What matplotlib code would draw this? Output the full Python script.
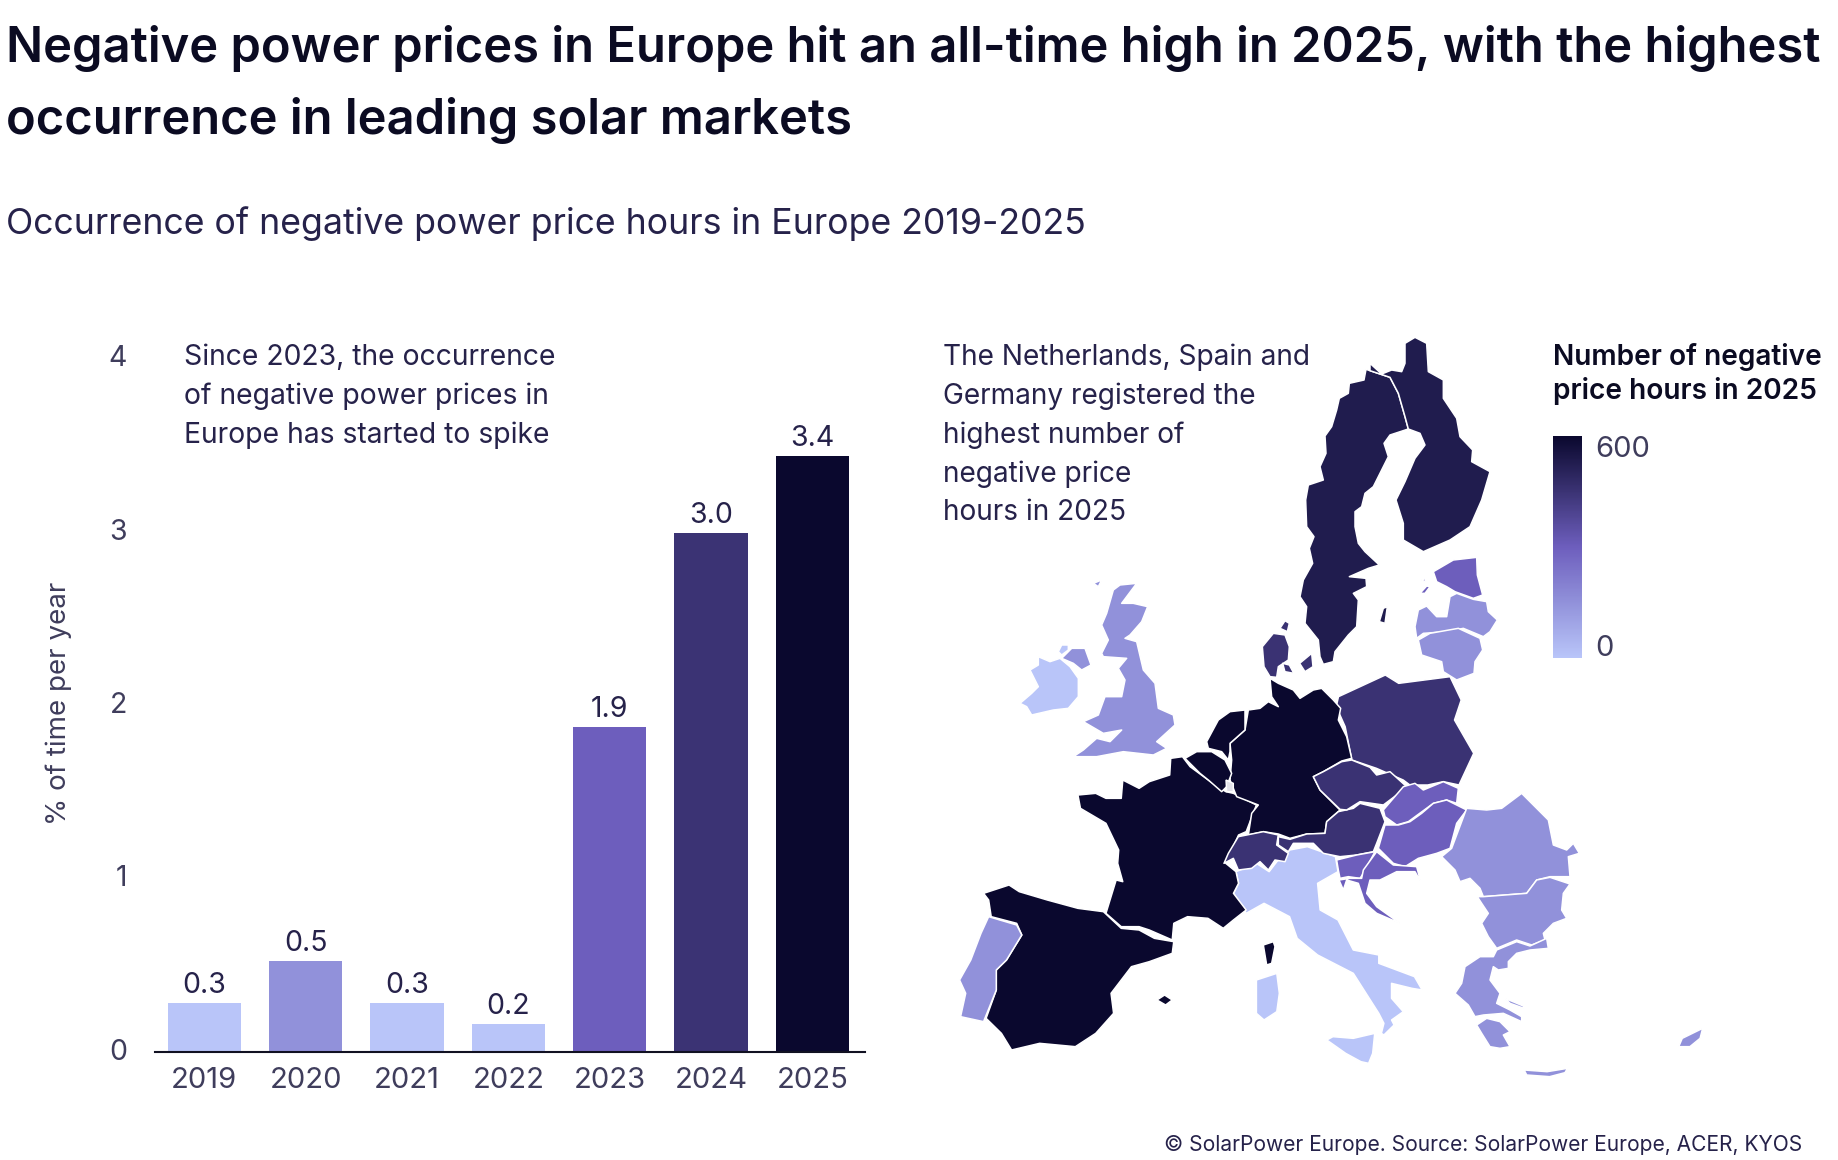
import numpy as np
import matplotlib
matplotlib.use('Agg')
import matplotlib.pyplot as plt
from matplotlib.cm import ScalarMappable
from matplotlib.colors import LinearSegmentedColormap, Normalize
from matplotlib.patches import Polygon
from matplotlib.transforms import ScaledTranslation

W, H = 1838, 1160
plt.rcParams['font.family'] = ['Inter', 'DejaVu Sans']

# Bar chart data
years = ['2019', '2020', '2021', '2022', '2023', '2024', '2025']
share = [0.28, 0.52, 0.28, 0.16, 1.87, 2.99, 3.43]
share_labels = ['0.3', '0.5', '0.3', '0.2', '1.9', '3.0', '3.4']
bar_colors = ['#B9C5F9', '#9191DA', '#B9C5F9', '#B9C5F9', '#6D5EBD', '#3B3374', '#0A082E']

# Hours per country, estimated from the shade of each country
hours = {
    'Sweden': 530, 'Finland': 530, 'Estonia': 300, 'Latvia': 150, 'Lithuania': 150,
    'Denmark': 450, 'Germany': 600, 'Netherlands': 600, 'Belgium': 600, 'France': 600,
    'Spain': 600, 'Portugal': 150, 'Italy': 0, 'Switzerland': 450, 'Austria': 450,
    'Czechia': 450, 'Poland': 450, 'Slovakia': 300, 'Hungary': 300, 'Slovenia': 300,
    'Croatia': 300, 'Romania': 150, 'Bulgaria': 150, 'Greece': 150, 'Ireland': 0,
    'N. Ireland': 150, 'Britain': 150, 'Cyprus': 150,
}

crops = {
    'north': (1290, 330, 1 / 3, 1 / 3),
    'center': (1150, 680, 1 / 3, 1 / 3),
    'east': (1340, 760, 1 / 3, 1 / 3),
    'west': (1010, 570, 1 / 3, 1 / 3),
    'south': (930, 700, 0.51, 1 / 3),
    'upper': (930, 320, 0.4464, 1 / 3),
}

sweden = [(228,118),(222,150),(178,160),(175,190),(148,205),(140,240),(125,290),(105,318),(108,370),(90,410),(100,450),(55,465),(47,510),(50,590),(72,620),(58,655),(68,700),(40,750),(30,800),(50,830),(45,880),(85,930),(90,980),(100,1003),(130,995),(135,965),(175,915),(200,890),(205,810),(190,790),(230,770),(228,745),(178,740),(235,715),(268,705),(225,665),(205,640),(195,590),(195,545),(215,530),(225,490),(250,470),(285,400),(295,380),(282,340),(300,315),(355,297),(345,260),(325,190),(300,142),(240,122)]
finland = [(240,122),(300,142),(325,190),(345,260),(355,297),(390,310),(405,345),(375,385),(345,455),(318,510),(340,580),(340,630),(400,665),(480,630),(540,590),(575,510),(600,425),(545,395),(548,360),(510,320),(500,265),(460,205),(460,150),(415,125),(410,40),(375,22),(345,40),(345,100),(335,125),(305,120),(275,132),(240,100)]
gotland = [(268,875),(280,835),(292,830),(285,880)]
estonia = [(430,725),(490,690),(560,682),(562,735),(578,795),(550,805),(495,785),(470,770),(440,755)]
saaremaa = [(390,790),(410,768),(420,770),(405,790)]
hiiumaa = [(395,750),(408,745),(405,755)]
latvia = [(375,890),(385,840),(410,828),(440,860),(470,860),(480,800),(500,790),(550,808),(590,815),(595,845),(622,870),(600,905),(580,920),(520,895),(470,905),(400,910),(380,925)]
lithuania = [(385,930),(420,910),(505,895),(570,925),(578,960),(555,995),(552,1030),(500,1050),(460,1025),(455,995),(395,975)]
jutland = [(757,230),(790,190),(825,195),(838,230),(835,270),(805,290),(800,322),(780,320),(762,290)]
vendsyssel = [(810,175),(825,152),(838,160),(832,185)]
funen = [(790,1030),(805,1035),(815,1060),(795,1055)]
zealand = [(828,1030),(855,1000),(858,1040),(840,1055)]
germany = [(360,-5),(385,10),(430,30),(450,55),(490,30),(515,25),(550,60),(572,85),(565,120),(590,170),(605,235),(575,243),(520,275),(490,290),(510,330),(570,390),(530,425),(525,460),(470,462),(420,475),(385,462),(340,455),(295,465),(305,400),(325,375),(260,350),(240,300),(245,240),(240,190),(285,150),(295,90),(330,85),(355,65),(385,80),(365,50)]
netherlands = [(170,185),(205,120),(240,95),(285,90),(285,150),(240,190),(240,215),(235,240),(215,215),(175,205)]
belgium = [(105,235),(140,215),(185,215),(225,240),(245,280),(230,320),(215,335),(175,300),(150,280)]
luxembourg = [(228,300),(250,310),(250,335),(230,335)]
france = [(290,285),(325,280),(345,295),(375,295),(378,240),(410,265),(430,245),(470,225),(472,175),(495,170),(510,200),(550,245),(580,275),(595,280),(640,315),(620,395),(605,405),(580,490),(600,515),(605,550),(595,580),(620,630),(595,660),(575,685),(545,655),(505,650),(478,670),(475,720),(430,690),(410,680),(375,680),(345,640),(365,540),(378,545),(368,490),(370,450),(345,370),(295,325)]
corsica = [(340,795),(370,785),(375,800),(365,850),(350,855),(345,825)]
spain = [(105,580),(155,555),(175,575),(230,600),(290,625),(340,635),(375,685),(410,690),(440,715),(478,725),(475,760),(430,785),(395,800),(355,880),(360,940),(325,1000),(285,1040),(215,1030),(160,1050),(140,1000),(110,955),(130,870),(130,810),(150,780),(180,705),(170,670),(120,650),(115,600)]
mallorca = [(445,900),(460,885),(475,900),(462,915)]
portugal = [(115,650),(170,675),(180,705),(150,780),(130,810),(130,870),(105,965),(60,950),(70,880),(58,840),(80,780),(100,700)]
italy = [(600,515),(640,490),(665,515),(680,485),(705,450),(740,440),(795,470),(800,515),(760,550),(765,630),(800,660),(830,750),(880,765),(880,790),(950,830),(965,870),(945,865),(905,850),(905,895),(928,935),(905,960),(910,975),(890,1005),(885,1000),(890,970),(880,940),(830,820),(760,765),(720,715),(705,650),(655,610),(620,640),(595,580),(605,550)]
sardinia = [(640,840),(680,820),(685,880),(680,935),(655,960),(640,940)]
sicily = [(778,1020),(790,1010),(830,1015),(872,1000),(868,1060),(860,1090),(845,1085),(815,1060)]
switzerland = [(222,550),(235,520),(265,470),(340,455),(385,465),(380,495),(415,520),(405,545),(375,540),(355,570),(330,545),(305,565),(265,570),(250,535)]
austria = [(385,470),(420,478),(470,462),(525,460),(530,425),(565,395),(610,385),(630,370),(690,385),(705,425),(680,490),(670,515),(620,525),(570,530),(520,520),(490,490),(430,490),(415,515),(385,495)]
czechia = [(490,290),(520,275),(575,245),(605,240),(660,262),(680,285),(720,275),(770,320),(740,345),(700,375),(630,365),(590,390),(570,388),(510,330)]
poland = [(915,1130),(1020,1065),(1050,1090),(1165,1070),(1190,1140),(1175,1200),(1218,1300),(1185,1395),(1150,1385),(1115,1395),(1075,1395),(1060,1380),(1000,1345),(945,1320),(930,1220),(910,1160)]
slovakia = [(130,150),(190,80),(225,70),(250,90),(310,65),(355,85),(350,130),(320,120),(280,130),(205,185),(170,195),(135,170)]
hungary = [(115,265),(135,195),(175,195),(210,185),(245,160),(280,130),(320,120),(380,150),(350,190),(330,265),(290,280),(235,295),(195,320),(160,310)]
slovenia = [(560,540),(620,525),(675,515),(640,580),(630,595),(595,590),(570,595),(565,570)]
croatia = [(680,515),(730,555),(800,560),(812,605),(795,575),(740,575),(690,600),(660,600),(650,640),(680,680),(750,730),(680,700),(645,670),(625,610),(590,600),(580,630),(567,600),(600,595),(635,595),(640,570)]
romania = [(305,290),(335,265),(380,145),(440,150),(485,145),(545,100),(625,180),(640,255),(680,270),(700,250),(718,280),(685,290),(690,350),(630,350),(590,360),(560,400),(430,410),(420,385),(390,355),(360,365),(345,330),(325,310)]
bulgaria = [(412,410),(430,410),(560,400),(590,360),(630,352),(690,372),(670,400),(665,450),(680,475),(640,490),(610,520),(615,540),(575,555),(530,540),(470,565),(445,530),(425,490),(445,460),(425,430)]
greece = [(470,570),(530,545),(570,558),(620,535),(625,565),(570,570),(530,580),(505,605),(505,625),(475,630),(460,620),(450,660),(480,700),(470,730),(510,750),(545,770),(545,785),(490,760),(430,765),(405,770),(385,735),(345,700),(365,670),(375,620),(420,590),(460,590)]
peloponnese = [(410,795),(440,775),(480,785),(510,815),(490,825),(510,860),(480,865),(450,860),(425,820)]
evia = [(495,715),(550,738),(552,745),(510,730)]
crete = [(1165,1110),(1210,1115),(1250,1105),(1245,1118),(1215,1130),(1170,1125)]
cyprus = [(1468,1040),(1475,1015),(1515,985),(1510,1015),(1490,1040)]
ireland = [(30,400),(65,370),(85,350),(60,300),(85,285),(85,260),(120,275),(150,265),(180,290),(205,325),(205,380),(175,415),(130,420),(65,435),(50,410)]
donegal = [(145,245),(155,225),(175,225),(175,240),(155,255)]
n_ireland = [(155,265),(185,235),(225,235),(243,285),(215,300),(190,280)]
britain = [(190,560),(220,540),(260,505),(300,515),(335,480),(280,490),(220,455),(265,435),(285,380),(335,380),(345,330),(325,295),(350,265),(280,260),(275,250),(295,210),(275,165),(290,130),(310,60),(330,45),(380,40),(335,100),(370,100),(413,110),(395,155),(360,195),(345,205),(380,215),(400,300),(435,340),(445,415),(490,435),(495,465),(440,515),(470,535),(430,555),(340,545),(260,560)]
hebrides = [(250,40),(275,30),(265,50)]

# country, crop, outline
map_parts = [
    ('Sweden', 'north', sweden), ('Sweden', 'north', gotland), ('Finland', 'north', finland),
    ('Estonia', 'north', estonia), ('Estonia', 'north', saaremaa), ('Estonia', 'north', hiiumaa),
    ('Latvia', 'north', latvia), ('Lithuania', 'north', lithuania),
    ('Denmark', 'west', jutland), ('Denmark', 'west', vendsyssel),
    ('Denmark', 'upper', funen), ('Denmark', 'upper', zealand),
    ('Ireland', 'west', ireland), ('Ireland', 'west', donegal), ('N. Ireland', 'west', n_ireland),
    ('Britain', 'west', britain), ('Britain', 'west', hebrides),
    ('Poland', 'upper', poland), ('Italy', 'south', italy), ('Italy', 'south', sardinia), ('Italy', 'south', sicily),
    ('France', 'south', france), ('France', 'center', corsica), ('Spain', 'south', spain), ('Spain', 'south', mallorca),
    ('Portugal', 'south', portugal), ('Germany', 'center', germany), ('Netherlands', 'center', netherlands),
    ('Belgium', 'center', belgium), ('Switzerland', 'center', switzerland), ('Austria', 'center', austria),
    ('Czechia', 'center', czechia), ('Slovakia', 'east', slovakia), ('Hungary', 'east', hungary),
    ('Slovenia', 'center', slovenia), ('Croatia', 'center', croatia),
    ('Romania', 'east', romania), ('Bulgaria', 'east', bulgaria),
    ('Greece', 'east', greece), ('Greece', 'east', peloponnese), ('Greece', 'east', evia),
    ('Greece', 'south', crete), ('Cyprus', 'south', cyprus),
]

# Colour scale
scale_stops = [0, 150, 300, 450, 600]
scale_colors = ['#B9C5F9', '#9191DA', '#6D5EBD', '#3B3374', '#0A082E']
cmap = LinearSegmentedColormap.from_list('neg_hours', list(zip(np.array(scale_stops) / 600, scale_colors)))
norm = Normalize(0, 600)

TITLE = '#0B0B22'
BODY = '#26224A'
TICK = '#3F3D5C'


def put(x, y, s, size, color=BODY, weight='normal', **kw):
    # text placed by pixel position in the 1838x1160 picture
    kw.setdefault('va', 'center')
    fig.text(x / W, 1 - y / H, s, fontsize=size, color=color, fontweight=weight, **kw)


fig = plt.figure(figsize=(W / 100, H / 100), dpi=100, facecolor='white')

# Titles
put(6, 49, 'Negative power prices in Europe hit an all-time high in 2025, with the highest', 35.2, TITLE, 600)
put(6, 121, 'occurrence in leading solar markets', 35.2, TITLE, 600)
put(6, 224, 'Occurrence of negative power price hours in Europe 2019-2025', 25.7, BODY)

# Bars
ax = fig.add_axes([155 / W, 1 - 1051.5 / H, (865 - 155) / W, 694 / H])
x = np.arange(len(years))
bars = ax.bar(x, share, width=0.725, color=bar_colors)
ax.bar_label(bars, labels=share_labels, padding=3, fontsize=20.5, color=BODY)
ax.set_xlim(-0.486, 6.52)
ax.set_ylim(0, 4)
ax.set_xticks(x, years, fontsize=21, color=TICK)
ax.set_yticks(range(5), range(5), fontsize=20.5, color=TICK)
ax.tick_params(length=0)
ax.tick_params(axis='x', pad=11)
ax.tick_params(axis='y', pad=20)
for label in ax.get_yticklabels():
    label.set_transform(label.get_transform() + ScaledTranslation(0, 2 / 100, fig.dpi_scale_trans))
for side in ['top', 'right', 'left']:
    ax.spines[side].set_visible(False)
ax.spines['bottom'].set_color('#111122')
ax.spines['bottom'].set_linewidth(1.5)
put(59, 703, '% of time per year', 20, TICK, rotation=90, ha='center')

for i, line in enumerate(['Since 2023, the occurrence', 'of negative power prices in', 'Europe has started to spike']):
    put(184, 357 + i * 39, line, 20.4)

# Map, in picture pixels
map_ax = fig.add_axes([0, 0, 1, 1], facecolor='none')
map_ax.set_xlim(0, W)
map_ax.set_ylim(H, 0)
map_ax.axis('off')
for country, crop, outline in map_parts:
    left, top, sx, sy = crops[crop]
    pts = np.array(outline, dtype=float) * (sx, sy) + (left, top)
    map_ax.add_patch(Polygon(pts, closed=True, facecolor=cmap(norm(hours[country])),
                             edgecolor='white', linewidth=1.1, joinstyle='round'))
lx, ly, sx, sy = crops['center']
map_ax.add_patch(Polygon(np.array(luxembourg, dtype=float) * (sx, sy) + (lx, ly), closed=True,
                         facecolor='#E3E3EA', edgecolor='white', linewidth=1))

for i, line in enumerate(['The Netherlands, Spain and', 'Germany registered the', 'highest number of',
                          'negative price', 'hours in 2025']):
    put(943, 357 + i * 39, line, 20.2)

# Colour bar
put(1553, 357, 'Number of negative', 20.2, TITLE, 600)
put(1553, 391, 'price hours in 2025', 20.2, TITLE, 600)
cax = fig.add_axes([1553 / W, 1 - 658 / H, 29 / W, 222 / H])
cb = fig.colorbar(ScalarMappable(norm=norm, cmap=cmap), cax=cax, ticks=[])
cb.outline.set_visible(False)
put(1595, 449, '600', 21, TICK)
put(1595, 649, '0', 21, TICK)

put(1802, 1145, '© SolarPower Europe. Source: SolarPower Europe, ACER, KYOS', 15.1, BODY, ha='right')

fig.savefig('out.png', dpi=100)
